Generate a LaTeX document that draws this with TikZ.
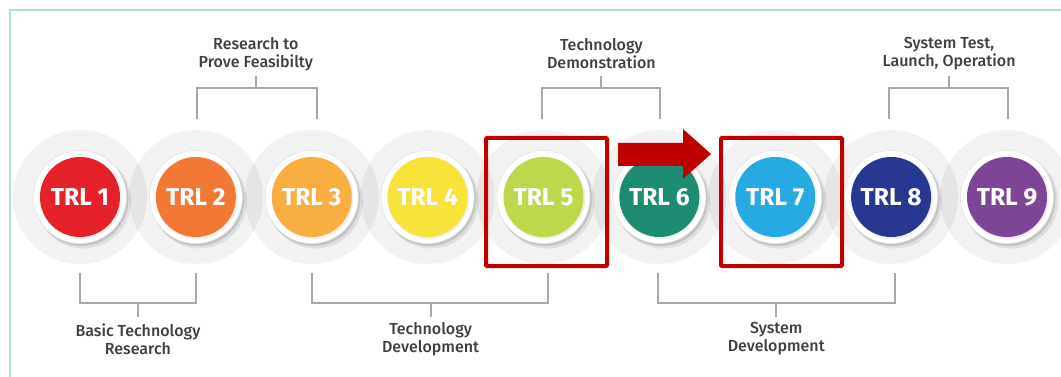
\documentclass[tikz,border=0pt]{standalone}
\usepackage{fontspec}
\setmainfont{Liberation Sans}
\newfontfamily\labelfont{Fira Sans}[UprightFont=* Medium]
\newfontfamily\trlfont{Fira Sans}[UprightFont=* Bold]
\usetikzlibrary{calc}
\definecolor{framecol}{RGB}{176,221,224}
\definecolor{brk}{RGB}{168,168,168}
\definecolor{txt}{RGB}{64,64,64}
\definecolor{redc}{RGB}{192,0,0}
\definecolor{c1}{RGB}{229,33,41}
\definecolor{c2}{RGB}{243,119,53}
\definecolor{c3}{RGB}{249,174,66}
\definecolor{c4}{RGB}{247,227,58}
\definecolor{c5}{RGB}{190,216,76}
\definecolor{c6}{RGB}{30,140,114}
\definecolor{c7}{RGB}{39,170,225}
\definecolor{c8}{RGB}{40,56,145}
\definecolor{c9}{RGB}{126,69,151}
\tikzset{
  halo/.style={fill=black, fill opacity=0.05},
  trl/.style={circle, inner sep=0pt, minimum size=80pt, text=white,
    font=\trlfont\fontsize{24.5}{24.5}\selectfont},
  lbl/.style={align=center, inner sep=0pt, text=txt,
    font=\labelfont\fontsize{16}{18}\selectfont},
  bracket/.style={draw=brk, line width=2pt},
  redbox/.style={draw=redc, line width=4pt, rounded corners=1pt, inner sep=0pt}
}
\begin{document}
\begin{tikzpicture}[x=1pt,y=-1pt]
\useasboundingbox (0,0) rectangle (1061,377);
\fill[white] (0,0) rectangle (1061,377);
\draw[framecol, line width=1.6pt] (10,377) -- (10,10) -- (1061,10);
% halos
\foreach \i in {1,...,9}{
  \pgfmathsetmacro\cx{80+115.875*(\i-1)}
  \fill[halo] (\cx,197) circle (67pt);
}
% rings and discs
\foreach \i in {1,...,9}{
  \pgfmathsetmacro\cx{80+115.875*(\i-1)}
  \fill[black, opacity=0.08] (\cx+3.5,201) circle (47.5pt);
  \fill[black, opacity=0.12] (\cx+1.5,199) circle (47pt);
  \filldraw[fill=white, draw=black!10, line width=0.6pt] (\cx,197) circle (46.5pt);
  \fill[black, opacity=0.06] (\cx+1,198) circle (41pt);
  \node[trl, fill=c\i] (t\i) at (\cx,197) {TRL \i};
}
% level coordinates
\coordinate (ts) at (0,76);
\coordinate (th) at (0,88);
\coordinate (tb) at (0,119);
\coordinate (bb) at (0,273);
\coordinate (bh) at (0,303);
\coordinate (bs) at (0,317);
% top labels
\node[lbl] (l1) at ($(t2)!0.5!(t3)+(2,-143)$) {Research to\\Prove Feasibilty};
\node[lbl] (l2) at ($(t5)!0.5!(t6)+(0,-143)$) {Technology\\Demonstration};
\node[lbl] (l3) at ($(t8)!0.5!(t9)+(0,-143)$) {System Test,\\Launch, Operation};
% bottom labels
\node[lbl] (l4) at ($(t1)!0.5!(t2)+(0,142)$) {Basic Technology\\Research};
\node[lbl] (l5) at ($(t3)!0.5!(t5)+(3,142)$) {Technology\\Development};
\node[lbl] (l6) at ($(t6)!0.5!(t8)+(1,142)$) {System\\Development};
% top brackets
\draw[bracket] ([xshift=1pt]t2 |- tb) -- ([xshift=1pt]t2 |- th) -- ([xshift=5pt]t3 |- th) -- ([xshift=5pt]t3 |- tb);
\draw[bracket] (l1 |- ts) -- (l1 |- th);
\draw[bracket] ([xshift=-2pt]t5 |- tb) -- ([xshift=-2pt]t5 |- th) -- ([xshift=1pt]t6 |- th) -- ([xshift=1pt]t6 |- tb);
\draw[bracket] (l2 |- ts) -- (l2 |- th);
\draw[bracket] ([xshift=-2pt]t8 |- tb) -- ([xshift=-2pt]t8 |- th) -- ([xshift=1pt]t9 |- th) -- ([xshift=1pt]t9 |- tb);
\draw[bracket] (l3 |- ts) -- (l3 |- th);
% bottom brackets
\draw[bracket] (t1 |- bb) -- (t1 |- bh) -- (t2 |- bh) -- (t2 |- bb);
\draw[bracket] (l4 |- bh) -- (l4 |- bs);
\draw[bracket] (t3 |- bb) -- (t3 |- bh) -- ([xshift=4.5pt]t5 |- bh) -- ([xshift=4.5pt]t5 |- bb);
\draw[bracket] (l5 |- bh) -- (l5 |- bs);
\draw[bracket] ([xshift=-1.5pt]t6 |- bb) -- ([xshift=-1.5pt]t6 |- bh) -- ([xshift=4pt]t8 |- bh) -- ([xshift=4pt]t8 |- bb);
\draw[bracket] (l6 |- bh) -- (l6 |- bs);
% red boxes
\node[redbox, minimum width=121pt, minimum height=128pt] (b5) at (546.5,202) {};
\node[redbox, minimum width=121pt, minimum height=128pt] (b7) at (781.5,202) {};
% red arrow
\fill[redc] (618,143) -- (683,143) -- (683,129) -- (711,154) -- (683,179) -- (683,166) -- (618,166) -- cycle;
\end{tikzpicture}
\end{document}
